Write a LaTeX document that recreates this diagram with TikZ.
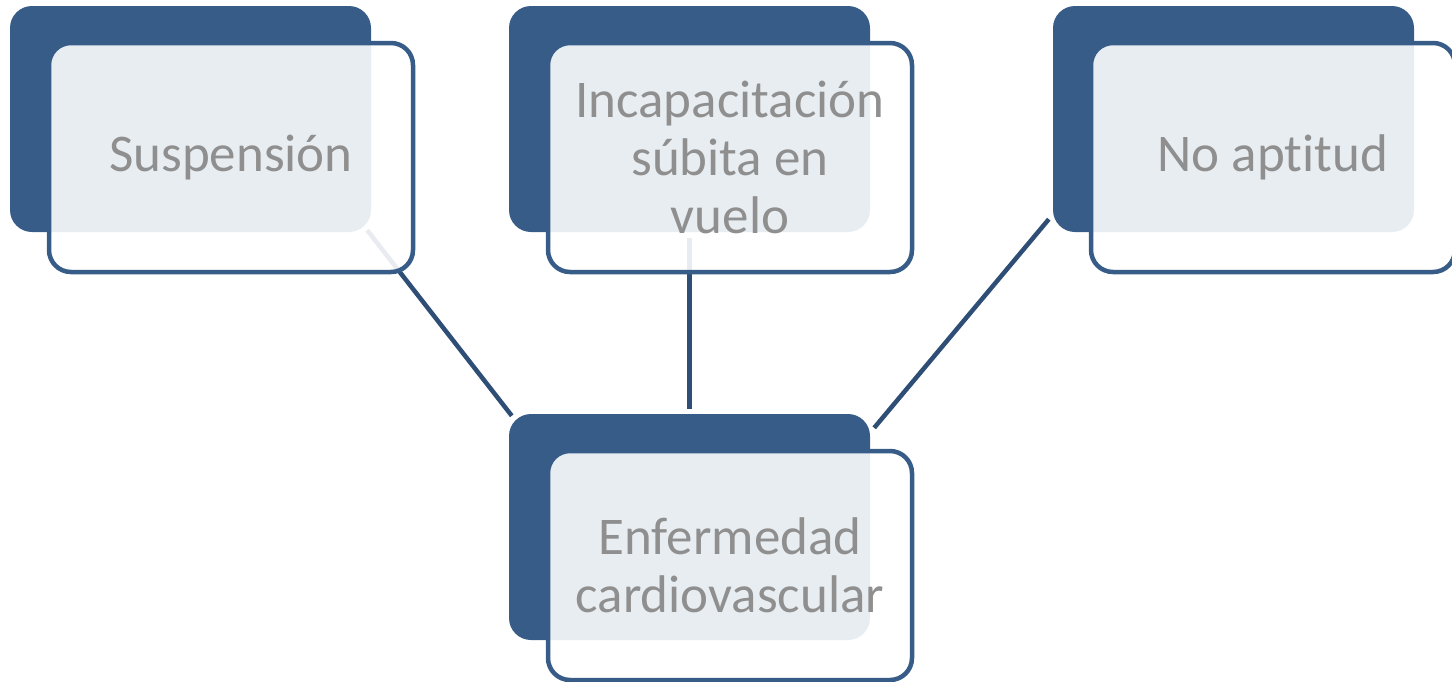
\documentclass[tikz,border=0pt]{standalone}
\usepackage{fontspec}
\setmainfont[Ligatures=NoCommon]{Carlito}
\definecolor{boxblue}{RGB}{54,92,135}
\definecolor{lineblue}{RGB}{46,78,117}
\definecolor{txtgray}{RGB}{143,143,143}
\begin{document}
\begin{tikzpicture}[x=1pt,y=-1pt,
 back/.style={fill=boxblue, rounded corners=22pt, minimum width=361pt, minimum height=226pt, inner sep=0pt},
 front/.style={draw=boxblue, line width=4.5pt, fill=white, fill opacity=0.89, text opacity=1, rounded corners=22pt, minimum width=364pt, minimum height=229pt, inner sep=0pt, align=center, text=txtgray, font=\fontsize{53}{58}\selectfont},
 conn/.style={draw=lineblue, line width=4.5pt}]
\useasboundingbox (0,0) rectangle (1452,681);
% back boxes
\node[back] (sb) at (190.5,119) {};
\node[back] (mb) at (689.5,119) {};
\node[back] (nb) at (1233.5,119) {};
\node[back] (eb) at (689.5,527) {};
% connectors
\draw[conn] ([shift={(-4,-2)}]sb.south east) -- ([shift={(3,2)}]eb.north west);
\draw[conn] ([shift={(0,6)}]mb.south) -- ([shift={(0,-5)}]eb.north);
\draw[conn] ([shift={(-4,-13)}]nb.south west) -- ([shift={(4,14)}]eb.north east);
% front boxes
\node[front] (sf) at (231,157.5) {Suspensión};
\node[front] (mf) at (730,157.5) {Incapacitación\\súbita en\\vuelo};
\node[front] (nf) at (1273,157.5) {No aptitud};
\node[front] (ef) at (730,565.5) {Enfermedad\\cardiovascular};
\end{tikzpicture}
\end{document}
